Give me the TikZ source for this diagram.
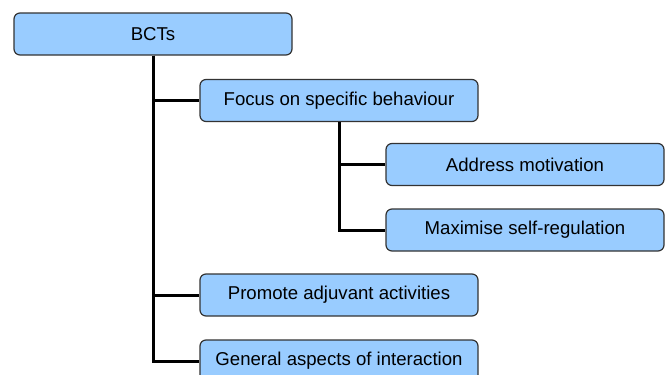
\documentclass[tikz,border=0pt]{standalone}
\usepackage{fontspec}
\setmainfont{Liberation Sans}
\usepackage{tikz}

\definecolor{boxblue}{HTML}{99CCFF}
\definecolor{boxline}{HTML}{333333}

\tikzset{
  bctbox/.style={draw=boxline, line width=1.2pt, fill=boxblue, rounded corners=6pt,
    minimum width=278pt, minimum height=42pt, inner sep=0pt,
    font=\fontsize{18.6}{22}\selectfont},
  branch/.style={line width=3pt}
}

\begin{document}
\begin{tikzpicture}[x=1pt, y=-1pt]
  % Page frame
  \useasboundingbox (0,0) rectangle (667,375);
  \clip (0,0) rectangle (667,375);

  % Draw the boxes
  \node[bctbox] (bcts) at (153,34) {BCTs};
  \node[bctbox] (focus) at (339,100.5) {Focus on specific behaviour};
  \node[bctbox] (motivation) at (525,164.5) {Address motivation};
  \node[bctbox] (selfreg) at (525,230) {Maximise self-regulation};
  \node[bctbox] (adjuvant) at (339,295) {Promote adjuvant activities};
  \node[bctbox] (interaction) at (339,361) {General aspects of interaction};

  % Draw the tree lines
  \draw[branch] (bcts.south) |- (interaction.west);
  \draw[branch] (bcts.south) |- (focus.west);
  \draw[branch] (bcts.south) |- (adjuvant.west);

  \draw[branch] (focus.south) |- (selfreg.west);
  \draw[branch] (focus.south) |- (motivation.west);

\end{tikzpicture}
\end{document}
